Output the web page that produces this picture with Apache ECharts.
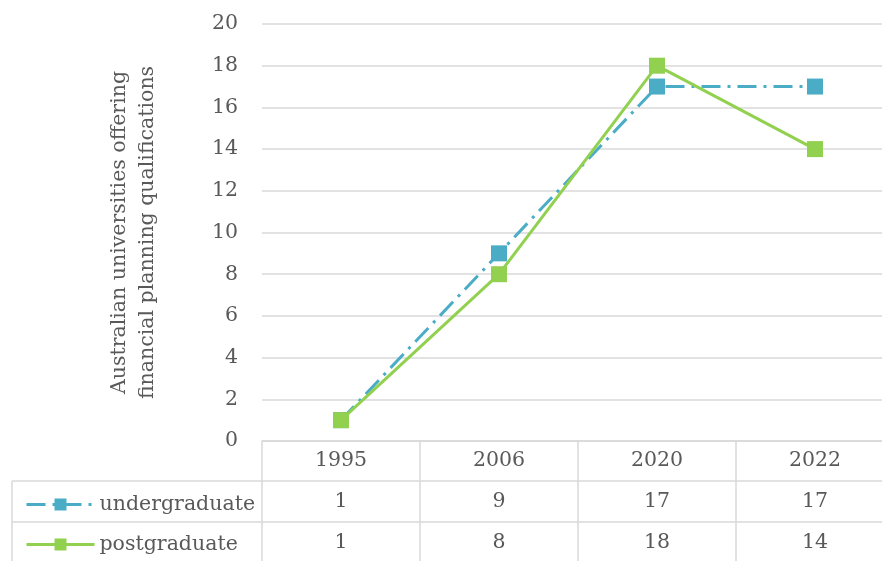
<!DOCTYPE html>
<html><head><meta charset="utf-8">
<script src="https://cdn.jsdelivr.net/npm/echarts@6/dist/echarts.min.js"></script>
<style>html,body{margin:0;padding:0;background:#fff}#c{width:882px;height:561px}</style>
</head><body><div id="c"></div>
<script>
const categories = ['1995', '2006', '2020', '2022'];
const undergraduate = [1, 9, 17, 17];
const postgraduate = [1, 8, 18, 14];
const seriesNames = ['undergraduate', 'postgraduate'];
const yAxisTitle = 'Australian universities offering\nfinancial planning qualifications';

const FONT = 'DejaVu Serif';
const FS = 20.5;
const TXT = '#595959';
const GRID = '#D9D9D9';
const BLUE = '#4BACC6';
const GREEN = '#92D050';

const chart = echarts.init(document.getElementById('c'), null, {renderer: 'canvas'});
const gridTop = 24, gridLeft = 262, gridWidth = 632, gridHeight = 417;
const legendBase = {
  orient: 'horizontal', left: 20, itemWidth: 68, itemHeight: 15,
  lineStyle: {width: 3},
  textStyle: {fontFamily: FONT, fontSize: FS, color: TXT}
};
chart.setOption({
  animation: false,
  grid: {left: gridLeft, width: gridWidth, top: gridTop, height: gridHeight,
         containLabel: false, outerBoundsMode: 'none'},
  legend: [
    Object.assign({}, legendBase, {top: 489, data: [seriesNames[0]]}),
    Object.assign({}, legendBase, {top: 529, data: [seriesNames[1]]})
  ],
  xAxis: {
    type: 'category', data: categories, boundaryGap: true,
    axisLine: {show: true, lineStyle: {color: GRID, width: 1.5}},
    axisTick: {show: true, length: 120, lineStyle: {color: GRID, width: 1.5}},
    axisLabel: {margin: 9, fontFamily: FONT, fontSize: FS, color: TXT}
  },
  yAxis: {
    type: 'value', min: 0, max: 20, interval: 2,
    name: yAxisTitle, nameLocation: 'middle', nameRotate: 90, nameGap: 100,
    nameTextStyle: {fontFamily: FONT, fontSize: FS, color: TXT, lineHeight: 28},
    axisLine: {show: false}, axisTick: {show: false},
    axisLabel: {margin: 24, fontFamily: FONT, fontSize: FS, color: TXT},
    splitLine: {lineStyle: {color: GRID, width: 1.5}}
  },
  series: [
    {name: seriesNames[0], type: 'line', data: undergraduate, symbol: 'rect', symbolSize: 16,
     itemStyle: {color: BLUE}, lineStyle: {color: BLUE, width: 3, type: [19, 7, 3, 7]}},
    {name: seriesNames[1], type: 'line', data: postgraduate, symbol: 'rect', symbolSize: 16,
     itemStyle: {color: GREEN}, lineStyle: {color: GREEN, width: 3, type: 'solid'}}
  ]
});

// data table below the axis
const rows = [undergraduate, postgraduate];
const axisY = chart.convertToPixel({yAxisIndex: 0}, 0);
const rowH = 41;
const graphics = [];
for (let r = 0; r < 2; r++) {
  const yTop = axisY + 40 + r * rowH;
  graphics.push({type: 'line', silent: true, z: 1,
    shape: {x1: 12, y1: yTop, x2: 882, y2: yTop}, style: {stroke: GRID, lineWidth: 1.5}});
  rows[r].forEach((v, i) => {
    const x = chart.convertToPixel({xAxisIndex: 0}, categories[i]);
    graphics.push({type: 'text', silent: true, x: x, y: yTop + rowH / 2,
      style: {text: String(v), fontFamily: FONT, fontSize: FS, fill: TXT, align: 'center', verticalAlign: 'middle'}});
  });
}
graphics.push({type: 'line', silent: true,
  shape: {x1: 12, y1: axisY + 40, x2: 12, y2: 561}, style: {stroke: GRID, lineWidth: 1.5}});
chart.setOption({graphic: graphics});
</script></body></html>
